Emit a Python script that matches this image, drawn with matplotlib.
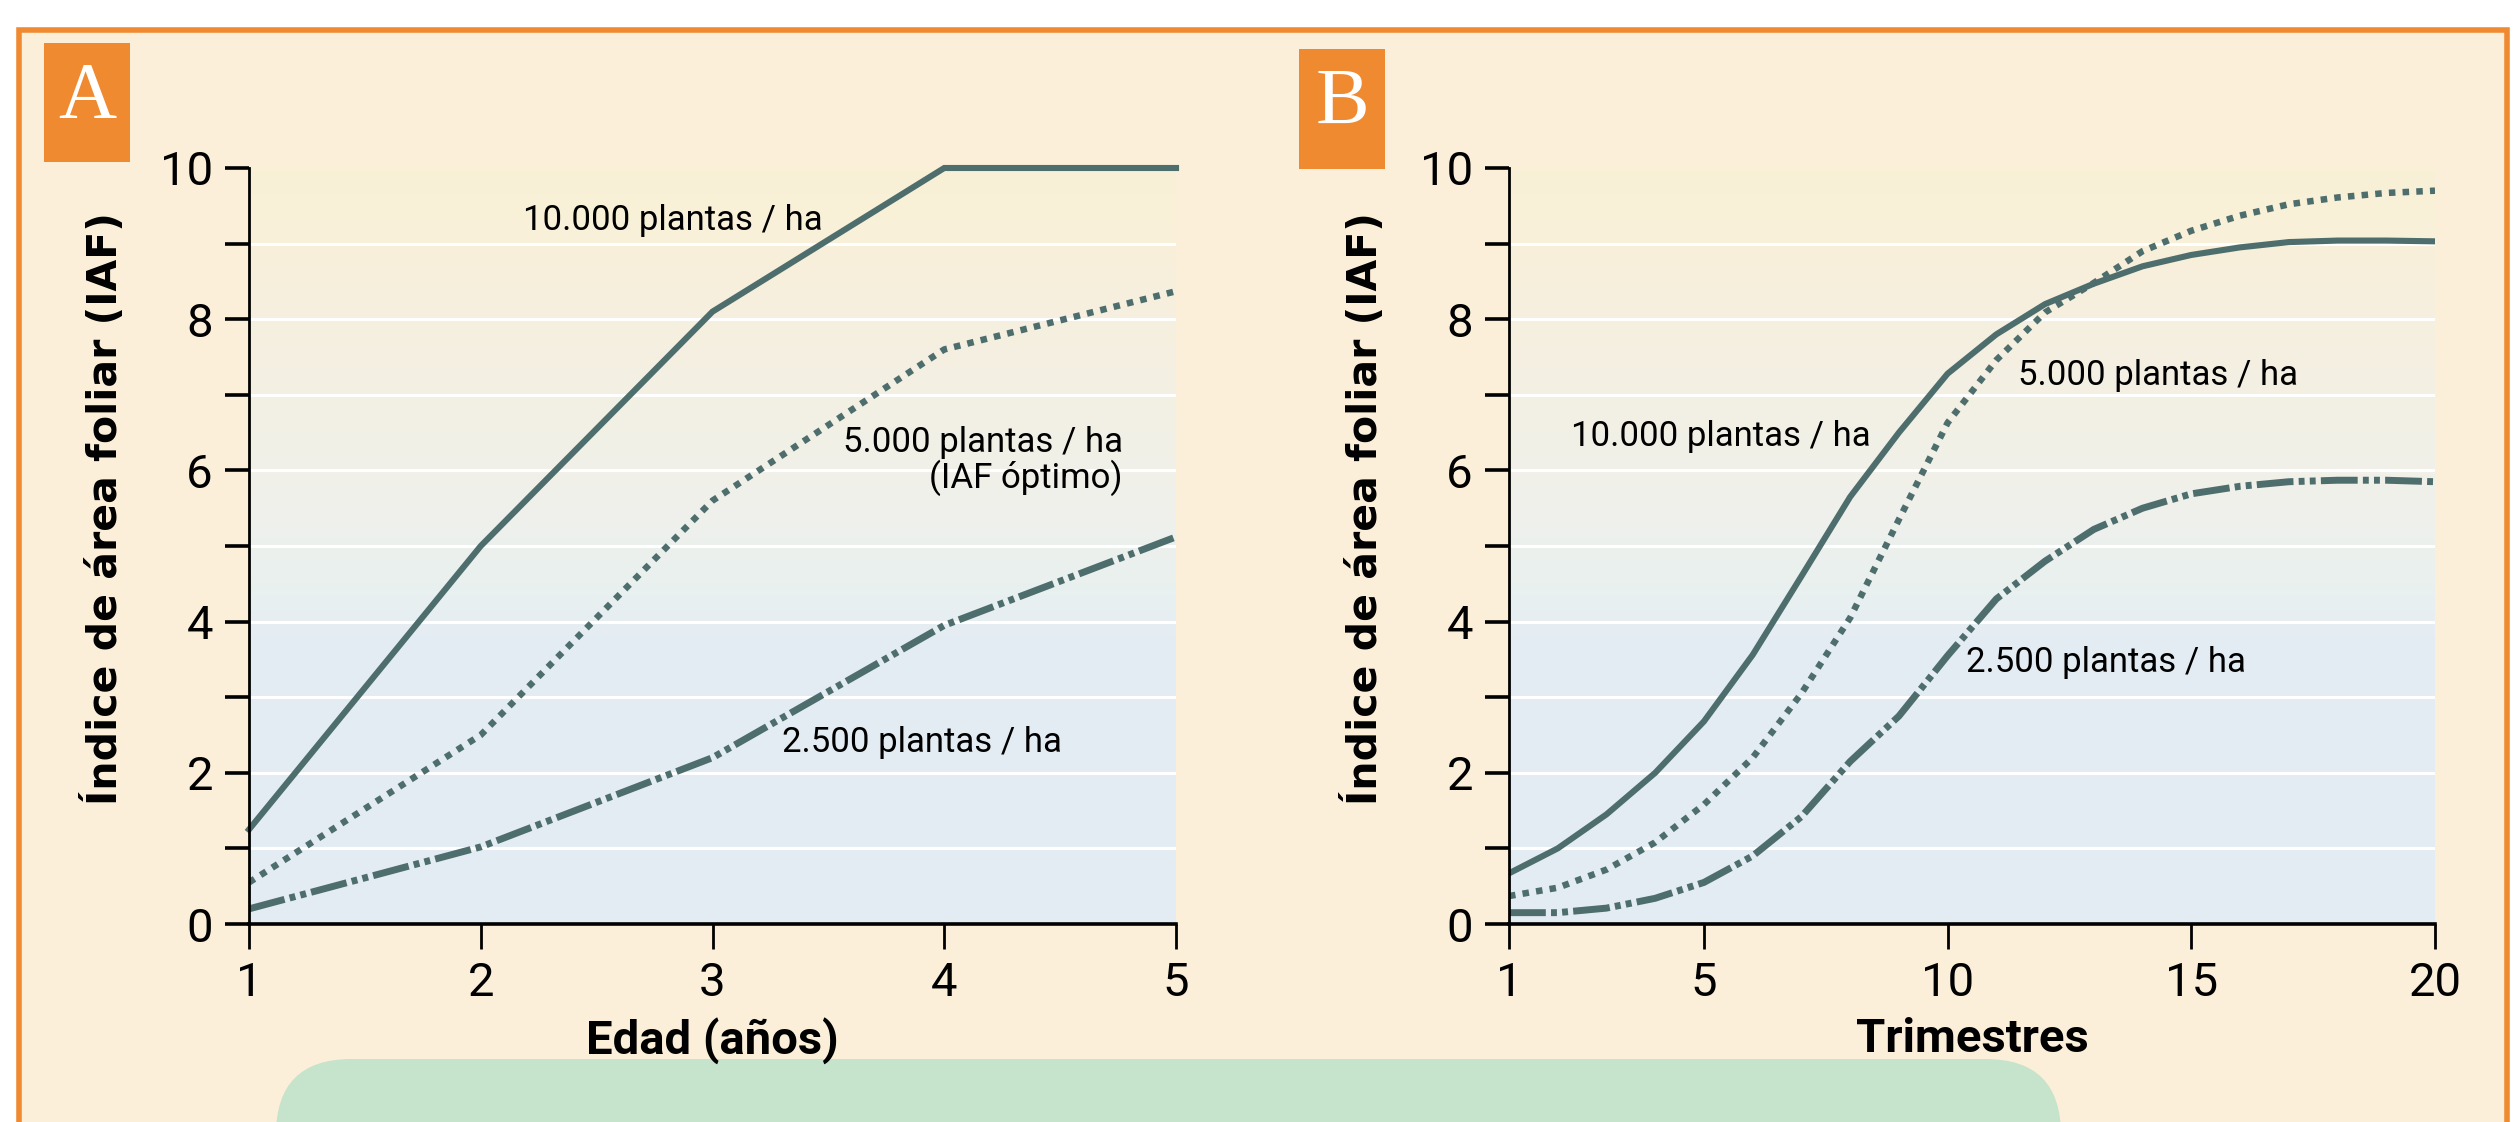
import matplotlib
matplotlib.use('Agg')
import matplotlib.pyplot as plt
import numpy as np
from matplotlib.colors import LinearSegmentedColormap
from matplotlib.patches import Rectangle, FancyBboxPatch

# datos panel A (edad en años)
edad = [1, 2, 3, 4, 5]
a_10000 = [1.25, 5.0, 8.1, 10.0, 10.0]
a_5000 = [0.55, 2.5, 5.6, 7.6, 8.37]
a_2500 = [0.2, 1.02, 2.2, 3.95, 5.12]

# datos panel B (trimestres)
trim = list(range(1, 21))
b_10000 = [0.67, 1.0, 1.45, 2.0, 2.68, 3.56, 4.6, 5.65, 6.5, 7.28,
           7.8, 8.2, 8.47, 8.7, 8.85, 8.95, 9.02, 9.04, 9.04, 9.03]
b_5000 = [0.37, 0.48, 0.72, 1.08, 1.58, 2.2, 3.05, 4.05, 5.35, 6.63,
          7.46, 8.09, 8.48, 8.9, 9.17, 9.37, 9.52, 9.61, 9.67, 9.7]
b_2500 = [0.15, 0.15, 0.21, 0.34, 0.55, 0.9, 1.42, 2.15, 2.75, 3.55,
          4.3, 4.8, 5.22, 5.5, 5.69, 5.79, 5.85, 5.87, 5.87, 5.85]

ylabel = "Índice de área foliar (IAF)"

NARROW = ['Roboto', 'DejaVu Sans']
COLOR = '#4e6e6d'
CREMA = '#fbefd9'
NARANJA = '#f08a30'

fig = plt.figure(figsize=(25.15, 11.22), dpi=100)
fig.patch.set_facecolor('white')

# marco naranja con fondo crema
fig.patches.append(Rectangle((19/2515, -0.2), 2488/2515, (1122-30)/1122 + 0.2,
                             transform=fig.transFigure, facecolor=CREMA,
                             edgecolor=NARANJA, linewidth=4, zorder=-2))
# caja verde inferior
fig.patches.append(FancyBboxPatch((276/2515, -0.1), (2061-276)/2515, (1122-1059)/1122 + 0.1,
                                  boxstyle="round,pad=0,rounding_size=0.03",
                                  transform=fig.transFigure, facecolor='#c6e4cb',
                                  edgecolor='none', zorder=-1, mutation_aspect=2515/1122))

grad = LinearSegmentedColormap.from_list('fondo', [
    (0.0, '#e4ecf3'), (0.38, '#e5edf4'), (0.45, '#e9f1ef'), (0.55, '#f0f0ec'),
    (0.7, '#f3f0e3'), (0.8, '#f6efe0'), (0.9, '#f8f0d9'), (1.0, '#f9f0d6')])


def panel(ax, xmin, xmax, xticks):
    ax.imshow(np.linspace(0, 1, 200).reshape(-1, 1), extent=[xmin, xmax, 0, 10],
              aspect='auto', cmap=grad, origin='lower', zorder=0)
    for y in range(1, 10):
        ax.axhline(y, color='white', lw=2.2, zorder=1)
    ax.set_xlim(xmin, xmax)
    ax.set_ylim(0, 10)
    ax.set_facecolor('none')
    ax.spines['right'].set_visible(False)
    ax.spines['top'].set_visible(False)
    ax.spines['left'].set_linewidth(2.0)
    ax.spines['bottom'].set_linewidth(2.6)
    ax.spines['left'].set_zorder(5)
    ax.spines['bottom'].set_zorder(5)
    ax.set_yticks(range(0, 11))
    ax.set_yticklabels([str(v) if v % 2 == 0 else '' for v in range(0, 11)])
    ax.set_xticks(xticks)
    ax.tick_params(axis='y', direction='out', length=17, width=2.6, pad=9)
    ax.tick_params(axis='x', direction='out', length=18, width=2.0, pad=9)
    for lab in ax.get_xticklabels() + ax.get_yticklabels():
        lab.set_family(NARROW)
        lab.set_fontsize(34)
    ax.set_ylabel(ylabel, family='DejaVu Sans', fontweight='bold', fontsize=29.5)
    ax.yaxis.set_label_coords(-0.133, 0.55)


axA = fig.add_axes([249/2515, 198/1122, 927/2515, 756/1122])
panel(axA, 1, 5, edad)
axA.plot(edad, a_10000, color=COLOR, lw=4.4, solid_joinstyle='miter', zorder=3, clip_on=False)
axA.plot(edad, a_5000, color=COLOR, lw=4.7, linestyle=(0, (1.0, 1.1)), zorder=3)
axA.plot(edad, a_2500, color=COLOR, lw=5.0, linestyle=(0, (5.3, 0.75, 0.85, 0.75, 0.85, 0.75)), zorder=3)
axA.set_xlabel("Edad (años)", family=NARROW, fontweight='bold', fontsize=34, labelpad=8)
axA.text(2.83, 9.3, "10.000 plantas / ha", family=NARROW, fontsize=25, ha='center', va='center', zorder=4)
axA.text(4.77, 6.37, "5.000 plantas / ha", family=NARROW, fontsize=25, ha='right', va='center', zorder=4)
axA.text(4.77, 5.9, "(IAF óptimo)", family=NARROW, fontsize=25, ha='right', va='center', zorder=4)
axA.text(3.3, 2.4, "2.500 plantas / ha", family=NARROW, fontsize=25, ha='left', va='center', zorder=4)

axB = fig.add_axes([1509/2515, 198/1122, 926/2515, 756/1122])
panel(axB, 1, 20, [1, 5, 10, 15, 20])
axB.plot(trim, b_10000, color=COLOR, lw=4.4, solid_joinstyle='round', zorder=3)
axB.plot(trim, b_5000, color=COLOR, lw=4.7, linestyle=(0, (1.0, 1.1)), zorder=3)
axB.plot(trim, b_2500, color=COLOR, lw=5.0, linestyle=(0, (5.3, 0.75, 0.85, 0.75, 0.85, 0.75)), zorder=3)
axB.set_xlabel("Trimestres", family=NARROW, fontweight='bold', fontsize=34, labelpad=8)
axB.text(2.28, 6.45, "10.000 plantas / ha", family=NARROW, fontsize=25, ha='left', va='center', zorder=4)
axB.text(11.44, 7.26, "5.000 plantas / ha", family=NARROW, fontsize=25, ha='left', va='center', zorder=4)
axB.text(10.38, 3.46, "2.500 plantas / ha", family=NARROW, fontsize=25, ha='left', va='center', zorder=4)

# etiquetas A y B en cajas naranjas
for (x0, y0, x1, y1, letra) in [(44, 43, 130, 162, 'A'), (1299, 49, 1385, 169, 'B')]:
    fig.patches.append(Rectangle((x0/2515, 1 - y1/1122), (x1-x0)/2515, (y1-y0)/1122,
                                 transform=fig.transFigure, facecolor='#f08a30',
                                 edgecolor='none', zorder=1))
    fig.text((x0+x1)/2/2515, 1 - (y0+y1)/2/1122 + 0.004, letra, family=['Liberation Serif', 'DejaVu Serif'],
             color='white', fontsize=58, ha='center', va='center', zorder=2)

fig.savefig("out.png", dpi=100, facecolor=fig.get_facecolor())
